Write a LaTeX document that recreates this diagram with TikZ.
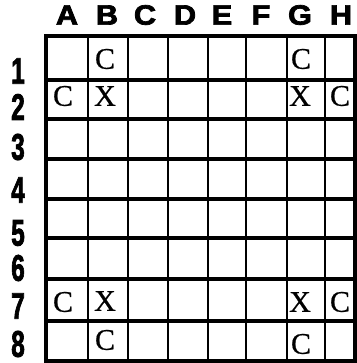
\documentclass[tikz,border=0pt]{standalone}
\usepackage{fontspec}
\newfontfamily\heavyfont{Liberation Sans Bold}[FakeBold=2.5]
\newfontfamily\cellfont{Liberation Serif}[FakeBold=0.6]
\begin{document}
\begin{tikzpicture}[x=1pt,y=-1pt,
  collabel/.style={inner sep=0pt,xscale=1.1,font=\heavyfont\fontsize{28}{28}\selectfont},
  rowlabel/.style={inner sep=0pt,xscale=0.66,font=\heavyfont\fontsize{37}{37}\selectfont},
  celltext/.style={inner sep=0pt,font=\cellfont\fontsize{30}{30}\selectfont},
  outer/.style={line width=4pt},
  hline/.style={line width=3.2pt},
  vline/.style={line width=2.6pt}]
\useasboundingbox (0,0) rectangle (356,363);
% grid lines
\foreach \y in {80,119,159,199,238,279,321} \draw[hline] (46,\y) -- (355,\y);
\foreach \x in {88,128,168,208,246,287,325} \draw[vline] (\x,36) -- (\x,361);
\draw[outer] (46,36) rectangle (355,361);
% column labels
\node[collabel] (cA) at (67,15) {A};
\node[collabel] (cB) at (107,15) {B};
\node[collabel] (cC) at (145,15) {C};
\node[collabel] (cD) at (185,15) {D};
\node[collabel] (cE) at (222,15) {E};
\node[collabel] (cF) at (261,15) {F};
\node[collabel] (cG) at (300,15) {G};
\node[collabel] (cH) at (341,15) {H};
% row labels
\node[rowlabel] (r1) at (18,71) {1};
\node[rowlabel] (r2) at (18,107) {2};
\node[rowlabel] (r3) at (18,147) {3};
\node[rowlabel] (r4) at (18,190) {4};
\node[rowlabel] (r5) at (18,233) {5};
\node[rowlabel] (r6) at (18,268) {6};
\node[rowlabel] (r7) at (18,306) {7};
\node[rowlabel] (r8) at (18,344) {8};
% cell letters
\node[celltext] (b1) at (105,59) {C};
\node[celltext] (a2) at (63,96) {C};
\node[celltext] (b2) at (105,96) {X};
\node[celltext] (g1) at (301,59) {C};
\node[celltext] (g2) at (300,96) {X};
\node[celltext] (h2) at (340,96) {C};
\node[celltext] (a7) at (63,302) {C};
\node[celltext] (b7) at (105,301) {X};
\node[celltext] (g7) at (300,302) {X};
\node[celltext] (h7) at (340,302) {C};
\node[celltext] (b8) at (105,340) {C};
\node[celltext] (g8) at (301,344) {C};
\end{tikzpicture}
\end{document}
